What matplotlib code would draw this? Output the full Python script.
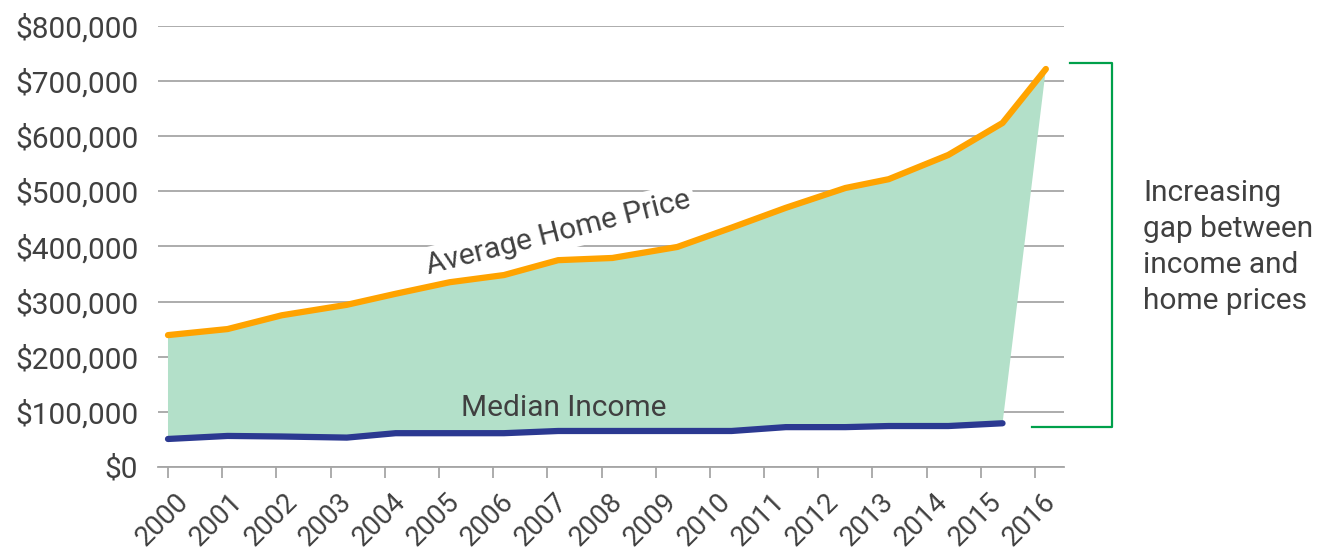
import matplotlib
matplotlib.use("Agg")
import matplotlib.pyplot as plt
import matplotlib.transforms as mtransforms
from matplotlib.lines import Line2D
from matplotlib.ticker import FuncFormatter

plt.rcParams['font.family'] = ['Roboto', 'DejaVu Sans']

# data
years = list(range(2000, 2017))
year_labels = [str(y) for y in years]
# the points sit a little right of the year ticks in the original
point_pos = [2000.0, 2001.1, 2002.1, 2003.3, 2004.2, 2005.2, 2006.2, 2007.2, 2008.2,
             2009.4, 2010.4, 2011.4, 2012.5, 2013.3, 2014.4, 2015.4, 2016.2]
home_price = [239000, 250000, 275000, 294000, 314000, 335000, 348000, 375000, 379000,
              399000, 434000, 470000, 506000, 522000, 566000, 624000, 722000]
median_income = [50500, 56000, 55000, 53000, 61000, 61000, 61000, 65000, 65000,
                  65000, 65000, 72000, 72000, 74000, 74000, 79000]

ORANGE = '#FFA300'
NAVY = '#2B3991'
MINT = '#B3E0C9'
GREEN = '#00A04A'
TEXT = '#404040'
GRID = '#A6A6A6'
FS = 21.5

W, H = 1326, 553
fig = plt.figure(figsize=(W / 100, H / 100), dpi=100)
ax = fig.add_axes([157.7 / W, 1 - 466.8 / H, (1064.3 - 157.7) / W, (466.8 - 26) / H])

# shaded gap between the two series
n_inc = len(median_income)
ax.fill(point_pos + point_pos[:n_inc][::-1], home_price + median_income[::-1],
        color=MINT, lw=0, zorder=2)
ax.plot(point_pos, home_price, color=ORANGE, lw=4.5, solid_capstyle='round',
        solid_joinstyle='round', zorder=3)
ax.plot(point_pos[:n_inc], median_income, color=NAVY, lw=4.5, solid_capstyle='round',
        solid_joinstyle='round', zorder=3)

ax.set_xlim(1999.81, 2016.54)
ax.set_ylim(0, 800000)
ax.set_yticks(range(0, 800001, 100000))
ax.yaxis.set_major_formatter(FuncFormatter(lambda v, p: f'${v:,.0f}'))
ax.set_xticks(years)
ax.set_xticklabels(year_labels)

ax.grid(axis='y', color=GRID, lw=1.3, zorder=0)
ax.set_axisbelow(True)
for s in ['left', 'right', 'top']:
    ax.spines[s].set_visible(False)
ax.spines['bottom'].set_color(GRID)
ax.spines['bottom'].set_linewidth(1.3)

ax.tick_params(axis='y', length=0, pad=14, labelsize=FS, labelcolor=TEXT)
ax.tick_params(axis='x', length=8, width=1.3, color=GRID, pad=14, labelsize=20,
               labelcolor=TEXT)
offset = mtransforms.ScaledTranslation(12 / 72, 0, fig.dpi_scale_trans)
for lbl in ax.get_xticklabels():
    lbl.set_rotation(45)
    lbl.set_ha('right')
    lbl.set_va('center')
    lbl.set_rotation_mode('anchor')
    lbl.set_transform(lbl.get_transform() + offset)

# series labels
ax.text(2007.2, 425000, 'Average Home Price', rotation=14.3, fontsize=FS, color=TEXT,
        ha='center', va='center', zorder=1,
        bbox=dict(boxstyle='square,pad=0.15', fc='white', ec='none'))
ax.text(2007.3, 107000, 'Median Income', fontsize=FS, color=TEXT,
        ha='center', va='center', zorder=4)

# bracket on the right
def px(x, y):
    return x / W, 1 - y / H

bx = [1070, 1112, 1112, 1032]
by = [63.3, 63.3, 426.7, 426.7]
pts = [px(x, y) for x, y in zip(bx, by)]
fig.add_artist(Line2D([p[0] for p in pts], [p[1] for p in pts], color=GREEN, lw=1.6,
                      transform=fig.transFigure))
fig.text(1143 / W, 1 - 247 / H, 'Increasing\ngap between\nincome and\nhome prices',
         fontsize=FS, color=TEXT, ha='left', va='center', linespacing=1.37)

fig.savefig('out.png', dpi=100)
